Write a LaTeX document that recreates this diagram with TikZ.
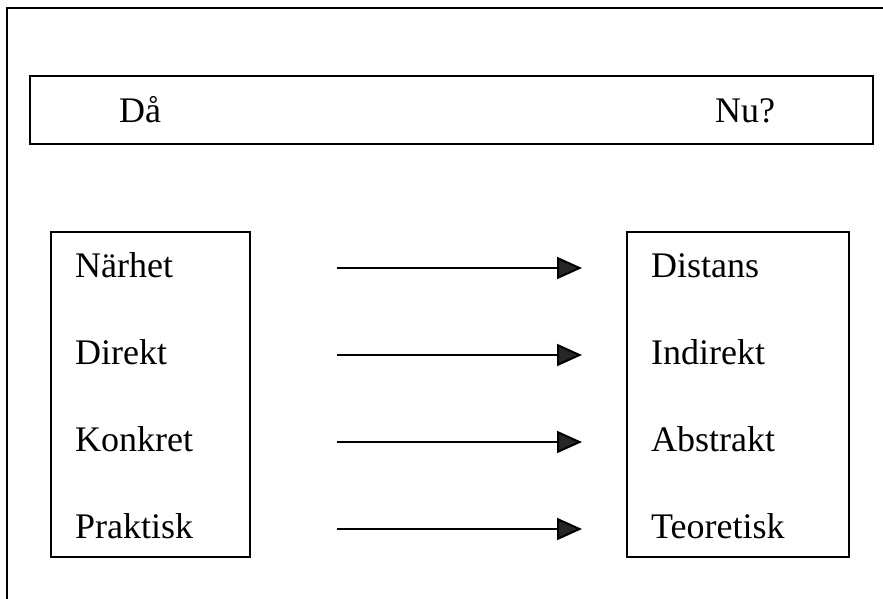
\documentclass[tikz,border=0pt]{standalone}
\usepackage{fontspec}
\setmainfont{Liberation Serif}
\usetikzlibrary{arrows.meta}
\begin{document}
\begin{tikzpicture}[x=1pt,y=-1pt,
  frame/.style={draw=black,line width=2pt,inner sep=0pt,anchor=north west},
  lbl/.style={inner sep=0pt,anchor=base west,font=\fontsize{36}{43}\selectfont},
  conn/.style={line width=2pt,-{Triangle[length=25pt,width=22pt,fill=black!85]}}]
\useasboundingbox (0,0) rectangle (883,598);
% outer frame (cropped at right and bottom)
\draw[line width=2pt] (885,8) -- (7,8) -- (7,600);
% top bar
\node[frame,minimum width=843pt,minimum height=68pt] (bar) at (29,75) {};
\node[lbl] (da) at (119,122) {Då};
\node[lbl] (nu) at (715,122) {Nu?};
% boxes
\node[frame,minimum width=199pt,minimum height=325pt] (lbox) at (50,231) {};
\node[frame,minimum width=222pt,minimum height=325pt] (rbox) at (626,231) {};
% left texts
\node[lbl] (l1) at (75,277) {Närhet};
\node[lbl] (l2) at (75,364) {Direkt};
\node[lbl] (l3) at (75,451) {Konkret};
\node[lbl] (l4) at (75,538) {Praktisk};
% right texts
\node[lbl] (r1) at (651,277) {Distans};
\node[lbl] (r2) at (651,364) {Indirekt};
\node[lbl] (r3) at (651,451) {Abstrakt};
\node[lbl] (r4) at (651,538) {Teoretisk};
% arrows
\foreach \i/\y in {1/268,2/355,3/442,4/529}{
  \coordinate (s\i) at (337,\y);
  \coordinate (e\i) at (582,\y);
  \draw[conn] (s\i) -- (e\i);
}
\end{tikzpicture}
\end{document}
